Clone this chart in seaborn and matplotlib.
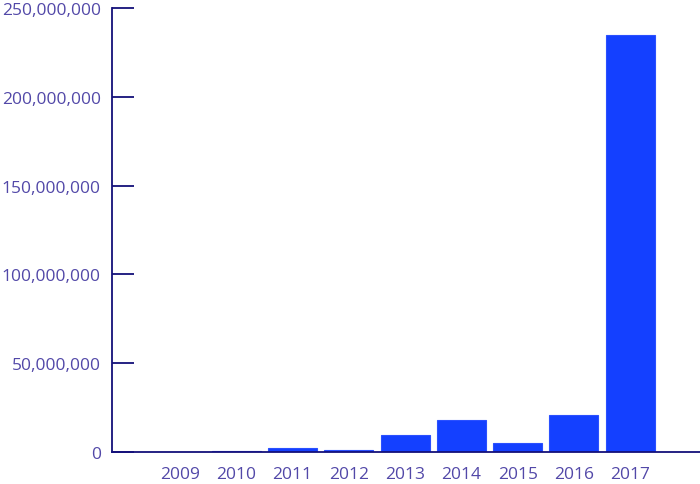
import matplotlib
matplotlib.use("Agg")
import matplotlib.pyplot as plt
import matplotlib.ticker as mticker
import seaborn as sns
import pandas as pd

years = ["2009", "2010", "2011", "2012", "2013", "2014", "2015", "2016", "2017"]
values = [100000, 600000, 2500000, 1100000, 9300000, 17900000, 4800000, 20800000, 235000000]
y_ticks = [0, 50000000, 100000000, 150000000, 200000000, 250000000]

df = pd.DataFrame({"year": years, "value": values})

sns.set_style("white")
plt.rcParams['font.family'] = ['Open Sans', 'DejaVu Sans']

label_color = "#5248a8"
axis_color = "#14107a"
bar_color = "#1440ff"

fig = plt.figure(figsize=(7, 4.85), dpi=100)
ax = fig.add_axes([0.16, 0.066, 0.84, 0.9154])

sns.barplot(data=df, x="year", y="value", color=bar_color, saturation=1,
            width=0.87, edgecolor="#2a50ff", linewidth=0.8, ax=ax)

ax.set_xlim(-1.21, 9.24)
ax.set_ylim(0, 250000000)
ax.set_yticks(y_ticks)
ax.yaxis.set_major_formatter(mticker.FuncFormatter(lambda v, p: f"{int(v):,}"))

for s in ["top", "right"]:
    ax.spines[s].set_visible(False)
for s in ["left", "bottom"]:
    ax.spines[s].set_color(axis_color)
    ax.spines[s].set_linewidth(1.3)

ax.tick_params(axis="y", left=True, direction="in", length=16, width=1.3, color=axis_color,
               labelcolor=label_color, labelsize=12.5, pad=8)
ax.tick_params(axis="x", bottom=False, length=0, labelcolor=label_color, labelsize=12.5, pad=10)
ax.set_xlabel("")
ax.set_ylabel("")

fig.savefig("out.png", dpi=100)
